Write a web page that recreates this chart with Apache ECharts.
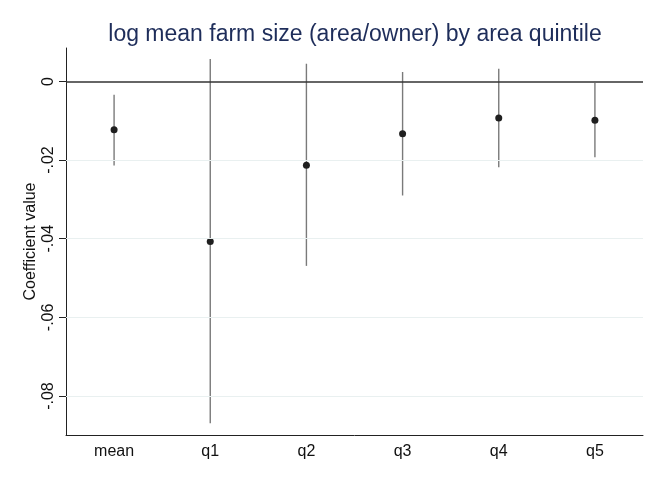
<!DOCTYPE html>
<html>
<head>
<meta charset="utf-8">
<script src="https://cdn.jsdelivr.net/npm/echarts@6/dist/echarts.min.js"></script>
<style>
  html, body { margin: 0; padding: 0; background: #fff; }
  #chart { width: 659px; height: 483px; }
</style>
</head>
<body>
<div id="chart"></div>
<script>
// Coefficient estimates with 95% confidence bounds, by farm-area quintile
const categories = ['mean', 'q1', 'q2', 'q3', 'q4', 'q5'];
const estimates  = [-0.0123, -0.0407, -0.0213, -0.0133, -0.0093, -0.0099];
const ciLower    = [-0.0214, -0.0869, -0.0469, -0.0290, -0.0218, -0.0193];
const ciUpper    = [-0.0034,  0.0057,  0.0045,  0.0024,  0.0032, -0.0004];
const yTicks     = [0, -0.02, -0.04, -0.06, -0.08];
const yMin = -0.0899, yMax = 0.0085;

const fontFamily = '"Liberation Sans", Arial, Helvetica, sans-serif';

// "-.02" style tick labels
function fmtTick(v) {
  if (Math.abs(v) < 1e-12) return '0';
  const s = Math.abs(v).toFixed(2).replace(/^0/, '');
  return (v < 0 ? '-' : '') + s;
}

const chart = echarts.init(document.getElementById('chart'), null, { renderer: 'canvas' });

const ciData = categories.map((c, i) => [i, ciLower[i], ciUpper[i]]);
const ptData = categories.map((c, i) => [i, estimates[i]]);

chart.setOption({
  animation: false,
  backgroundColor: '#ffffff',
  title: {
    text: 'log mean farm size (area/owner) by area quintile',
    left: 350,
    textAlign: 'center',
    top: 18,
    textStyle: { fontFamily, fontSize: 23, fontWeight: 'normal', color: '#1e2d5a' }
  },
  grid: { left: 66, right: 16, top: 48, bottom: 48 },
  xAxis: {
    type: 'category',
    data: categories,
    boundaryGap: true,
    axisLine: { onZero: false, lineStyle: { color: '#222', width: 1 } },
    axisTick: { alignWithLabel: true, length: 6, lineStyle: { color: '#222' } },
    axisLabel: { fontFamily, fontSize: 16, color: '#111', margin: 9 },
    splitLine: { show: false }
  },
  yAxis: {
    type: 'value',
    min: yMin,
    max: yMax,
    name: 'Coefficient value',
    nameLocation: 'middle',
    nameGap: 27,
    nameMoveOverlap: false,
    nameTextStyle: { fontFamily, fontSize: 16, color: '#111' },
    axisLine: { show: true, onZero: false, lineStyle: { color: '#222', width: 1 } },
    axisTick: { show: true, length: 7, customValues: yTicks, lineStyle: { color: '#222' } },
    axisLabel: {
      fontFamily, fontSize: 16, color: '#111', rotate: 90, margin: 9,
      customValues: yTicks,
      formatter: fmtTick
    },
    splitLine: { show: false }
  },
  series: [
    {
      // horizontal grid lines and zero reference line
      type: 'line',
      data: [],
      z: 1,
      silent: true,
      markLine: {
        silent: true,
        symbol: 'none',
        label: { show: false },
        data: yTicks.slice(1).map(v => ({
          yAxis: v, lineStyle: { color: '#e9f0f0', width: 1.2, type: 'solid' }
        })).concat([{ yAxis: 0, lineStyle: { color: '#333', width: 1.6, type: 'solid' } }])
      }
    },
    {
      // confidence interval spikes
      type: 'custom',
      z: 3,
      data: ciData,
      encode: { x: 0, y: [1, 2] },
      renderItem: function (params, api) {
        const lo = api.coord([api.value(0), api.value(1)]);
        const hi = api.coord([api.value(0), api.value(2)]);
        return {
          type: 'line',
          shape: { x1: lo[0], y1: lo[1], x2: hi[0], y2: hi[1] },
          style: { stroke: '#7a7a7a', lineWidth: 1.4 }
        };
      }
    },
    {
      // point estimates
      type: 'scatter',
      z: 4,
      data: ptData,
      symbol: 'circle',
      symbolSize: 7,
      itemStyle: { color: '#1f1f1f', opacity: 1 }
    }
  ]
});
</script>
</body>
</html>
